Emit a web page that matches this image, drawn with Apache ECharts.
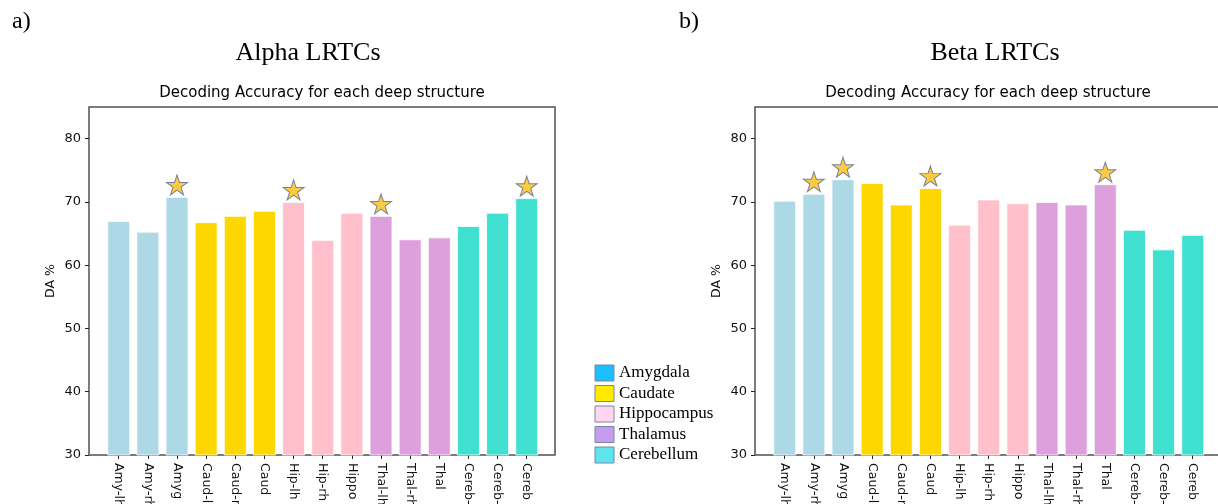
<!DOCTYPE html>
<html>
<head>
<meta charset="utf-8">
<script src="https://cdn.jsdelivr.net/npm/echarts@6/dist/echarts.min.js"></script>
<style>
  html, body { margin: 0; padding: 0; background: #fff; }
  #chart { width: 1218px; height: 504px; }
</style>
</head>
<body>
<div id="chart"></div>
<script>
// structure labels (cut off by the bottom of the figure)
const categories = [
  'Amy-lh', 'Amy-rh', 'Amyg',
  'Caud-lh', 'Caud-rh', 'Caud',
  'Hip-lh', 'Hip-rh', 'Hippo',
  'Thal-lh', 'Thal-rh', 'Thal',
  'Cereb-lh', 'Cereb-rh', 'Cereb',
];
const alphaValues = [67.0, 65.3, 70.8, 66.8, 67.8, 68.6, 70.0, 64.0, 68.3, 67.8, 64.1, 64.4, 66.2, 68.3, 70.6];
const betaValues = [70.2, 71.3, 73.6, 73.0, 69.6, 72.2, 66.4, 70.4, 69.8, 70.0, 69.6, 72.8, 65.6, 62.5, 64.8];
// indices of bars marked with a star
const alphaStars = [2, 6, 9, 14];
const betaStars = [1, 2, 5, 11];
const yTicks = [30, 40, 50, 60, 70, 80];

// one colour per group of three bars
const barColors = ['#ADD8E6', '#FFD700', '#FFC0CB', '#DDA0DD', '#40E0D0'];
const legendNames = ['Amygdala', 'Caudate', 'Hippocampus', 'Thalamus', 'Cerebellum'];
const legendColors = ['#1CBEFB', '#FFEA00', '#FFD6F2', '#C59CF0', '#5DE4EC'];

const starPath = 'path://M50 0 L61.23 34.55 L97.55 34.55 L68.17 55.9 L79.39 90.45 L50 69.1 L20.61 90.45 L31.83 55.9 L2.45 34.55 L38.77 34.55 Z';
const sans = 'DejaVu Sans';
const serif = '"Liberation Serif", "Times New Roman", serif';
const tickIdx = categories.map((_, i) => i);

const chart = echarts.init(document.getElementById('chart'));

const grids = [
  { left: 89, top: 107, width: 466, height: 348 },
  { left: 755, top: 107, width: 466, height: 348 },
].map((g) => ({
  ...g,
  outerBoundsMode: 'none',
  containLabel: false,
  show: true,
  borderColor: '#505050',
  borderWidth: 1.5,
  backgroundColor: '#fff',
}));

const xAxes = [0, 1].map((i) => ({
  type: 'value',
  gridIndex: i,
  min: -1.02,
  max: 14.97,
  axisLine: { show: false, onZero: false },
  splitLine: { show: false },
  axisTick: { show: true, inside: false, length: 4, customValues: tickIdx, lineStyle: { color: '#222' } },
  axisLabel: {
    customValues: tickIdx,
    rotate: -90,
    margin: 8,
    fontFamily: sans,
    fontSize: 12.5,
    color: '#111',
    formatter: (v) => categories[Math.round(v)] || '',
  },
}));

const yAxes = [0, 1].map((i) => ({
  type: 'value',
  gridIndex: i,
  min: 30,
  max: 85,
  name: 'DA %',
  nameLocation: 'middle',
  nameGap: 32,
  nameTextStyle: { fontFamily: sans, fontSize: 12.5, color: '#111' },
  axisLine: { show: false, onZero: false },
  splitLine: { show: false },
  axisTick: { show: true, inside: false, length: 4, customValues: yTicks, lineStyle: { color: '#222' } },
  axisLabel: { customValues: yTicks, margin: 8, fontFamily: sans, fontSize: 13, color: '#111' },
}));

function barSeries(values, idx) {
  return {
    type: 'bar',
    xAxisIndex: idx,
    yAxisIndex: idx,
    barWidth: 23,
    clip: true,
    data: values.map((v, i) => ({
      value: [i, v],
      itemStyle: { color: barColors[Math.floor(i / 3)] },
    })),
    itemStyle: { borderColor: 'rgba(255,255,255,0.8)', borderWidth: 1 },
    silent: true,
  };
}

function starSeries(values, stars, idx) {
  return {
    type: 'scatter',
    xAxisIndex: idx,
    yAxisIndex: idx,
    symbol: starPath,
    symbolSize: [21, 20],
    symbolOffset: [0, -12],
    z: 5,
    data: stars.map((i) => [i, values[i]]),
    itemStyle: { color: '#FDBE10', borderColor: '#56699A', borderWidth: 1 },
    silent: true,
  };
}

const texts = [
  { text: 'a)', x: 12, y: 22, font: '24px ' + serif, align: 'left' },
  { text: 'b)', x: 679, y: 22, font: '24px ' + serif, align: 'left' },
  { text: 'Alpha LRTCs', x: 308, y: 53, font: '26px ' + serif, align: 'center' },
  { text: 'Beta LRTCs', x: 995, y: 53, font: '26px ' + serif, align: 'center' },
  { text: 'Decoding Accuracy for each deep structure', x: 322, y: 93, font: '15px ' + sans, align: 'center' },
  { text: 'Decoding Accuracy for each deep structure', x: 988, y: 93, font: '15px ' + sans, align: 'center' },
];

const graphic = texts.map((t) => ({
  type: 'text',
  x: t.x,
  y: t.y,
  style: { text: t.text, font: t.font, fill: '#000', textAlign: t.align, textVerticalAlign: 'middle' },
}));

legendNames.forEach((name, i) => {
  const y = 365 + i * 20.5;
  graphic.push({
    type: 'rect',
    shape: { x: 595, y: y, width: 19, height: 16 },
    style: { fill: legendColors[i], stroke: '#7886A8', lineWidth: 1 },
  });
  graphic.push({
    type: 'text',
    x: 619,
    y: y + 8,
    style: { text: name, font: '17px ' + serif, fill: '#000', textAlign: 'left', textVerticalAlign: 'middle' },
  });
});

chart.setOption({
  animation: false,
  backgroundColor: '#fff',
  grid: grids,
  xAxis: xAxes,
  yAxis: yAxes,
  series: [
    barSeries(alphaValues, 0),
    starSeries(alphaValues, alphaStars, 0),
    barSeries(betaValues, 1),
    starSeries(betaValues, betaStars, 1),
  ],
  graphic: graphic,
});
</script>
</body>
</html>
